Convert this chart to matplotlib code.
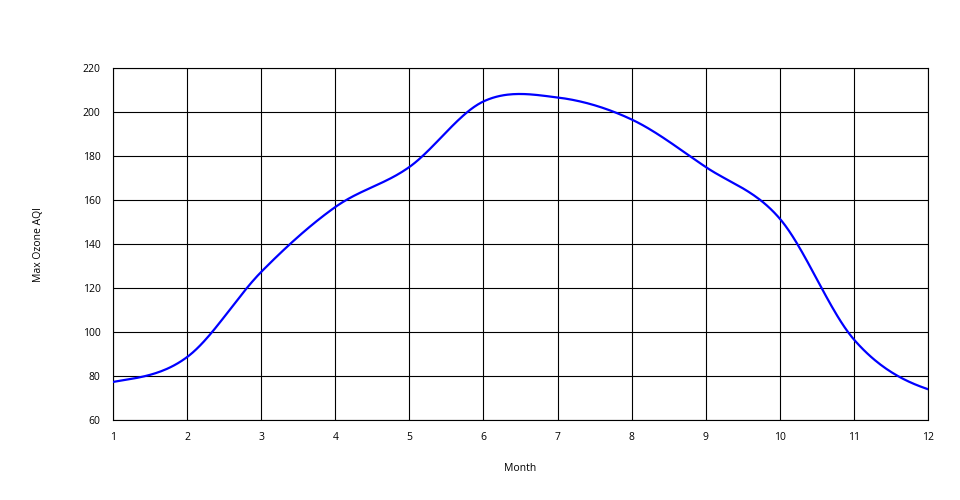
import numpy as np
import matplotlib
matplotlib.use("Agg")
import matplotlib.pyplot as plt

plt.rcParams['font.family'] = ['Open Sans', 'DejaVu Sans']

months = [1, 2, 3, 4, 5, 6, 7, 8, 9, 10, 11, 12]
max_ozone_aqi = [77.3, 88.6, 127.3, 156.8, 175.0, 204.8, 206.6, 196.6, 175.0, 151.5, 96.6, 74.0]
y_ticks = [60, 80, 100, 120, 140, 160, 180, 200, 220]


def catmull_rom(x, y, n=40):
    x = np.asarray(x, float)
    y = np.asarray(y, float)
    m = np.zeros_like(y)
    m[1:-1] = (y[2:] - y[:-2]) / 2
    m[0] = (y[1] - y[0]) / 2
    m[-1] = (y[-1] - y[-2]) / 2
    xs, ys = [], []
    for i in range(len(x) - 1):
        t = np.linspace(0, 1, n, endpoint=(i == len(x) - 2))
        h00 = 2 * t**3 - 3 * t**2 + 1
        h10 = t**3 - 2 * t**2 + t
        h01 = -2 * t**3 + 3 * t**2
        h11 = t**3 - t**2
        xs.append(x[i] + t * (x[i + 1] - x[i]))
        ys.append(h00 * y[i] + h10 * m[i] + h01 * y[i + 1] + h11 * m[i + 1])
    return np.concatenate(xs), np.concatenate(ys)


fig = plt.figure(figsize=(9.6, 5.0), dpi=100)
ax = fig.add_axes([113 / 960, 80 / 500, 815 / 960, 352 / 500])

sx, sy = catmull_rom(months, max_ozone_aqi)
ax.plot(sx, sy, color='#0000ff', linewidth=1.6, zorder=3)

ax.set_xlim(1, 12)
ax.set_ylim(60, 220)
ax.set_xticks(months)
ax.set_yticks(y_ticks)
ax.grid(True, color='black', linewidth=0.8)
ax.tick_params(length=0, labelsize=7.5, pad=9)
for s in ax.spines.values():
    s.set_color('black')
    s.set_linewidth(0.8)

ax.set_xlabel('Month', fontsize=7.5, labelpad=14)
ax.set_ylabel('Max Ozone AQI', fontsize=7.5, labelpad=28)

fig.savefig('out.png', dpi=100)
